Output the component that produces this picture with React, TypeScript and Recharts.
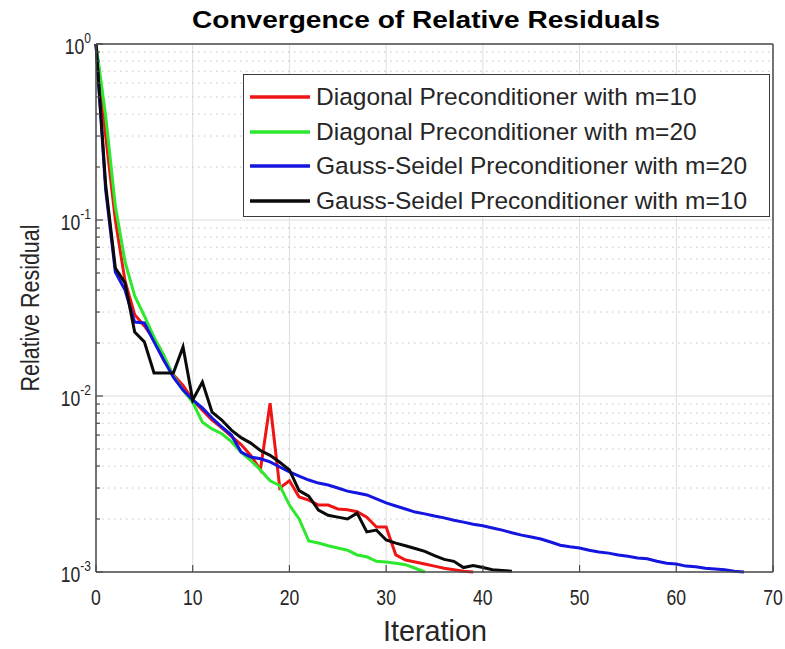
import { LineChart, Line, XAxis, YAxis, CartesianGrid, Legend, ReferenceLine } from 'recharts';

document.body.style.margin = '0';

const fontFamily = '"Liberation Sans", Arial, Helvetica, sans-serif';

// iterations on x, relative residual (log) on y
const iterTicks = [0, 10, 20, 30, 40, 50, 60, 70];
const decadeTicks = [0.001, 0.01, 0.1, 1];
const minorTicks = [
  0.002, 0.003, 0.004, 0.005, 0.006, 0.007, 0.008, 0.009,
  0.02, 0.03, 0.04, 0.05, 0.06, 0.07, 0.08, 0.09,
  0.2, 0.3, 0.4, 0.5, 0.6, 0.7, 0.8, 0.9,
];
const allYTicks = [...decadeTicks, ...minorTicks].sort((a, b) => a - b);

const diagM10 = [
  1, 0.3, 0.1, 0.045, 0.029, 0.025, 0.021, 0.016, 0.0132, 0.0115,
  0.0095, 0.0083, 0.0073, 0.0066, 0.0059, 0.0053, 0.0046, 0.0038, 0.0091, 0.003,
  0.0033, 0.00267, 0.00256, 0.0024, 0.0024, 0.00228, 0.00226, 0.0022, 0.00205, 0.0018,
  0.0018, 0.00125, 0.00117, 0.00114, 0.00111, 0.00108, 0.00105, 0.00103, 0.00101, 0.001,
];

const diagM20 = [
  1, 0.39, 0.12, 0.058, 0.037, 0.0285, 0.0216, 0.0171, 0.013, 0.0108,
  0.0092, 0.0071, 0.0065, 0.0061, 0.0055, 0.0048, 0.0043, 0.0038, 0.0033, 0.0031,
  0.0024, 0.002, 0.0015, 0.00146, 0.00141, 0.00137, 0.00133, 0.00125, 0.00122, 0.00115,
  0.00114, 0.00112, 0.0011, 0.00105, 0.001,
];

const gsM20 = [
  1, 0.148, 0.0507, 0.04, 0.0263, 0.026, 0.0203, 0.016, 0.0128, 0.0108,
  0.0095, 0.00855, 0.0075, 0.00667, 0.006, 0.0048, 0.0045, 0.0044, 0.00422, 0.00395,
  0.0037, 0.00351, 0.00333, 0.0032, 0.00312, 0.003, 0.00288, 0.00281, 0.00274, 0.0026,
  0.00247, 0.00237, 0.00228, 0.00219, 0.00214, 0.00208, 0.00203, 0.00197, 0.00192, 0.00187,
  0.00183, 0.00178, 0.00173, 0.00167, 0.00162, 0.00158, 0.00154, 0.00148, 0.00142, 0.00139,
  0.00137, 0.00133, 0.0013, 0.00128, 0.00125, 0.00123, 0.0012, 0.00119, 0.00115, 0.00112,
  0.00111, 0.00108, 0.00107, 0.00105, 0.00104, 0.00103, 0.00101, 0.001,
];

const gsM10 = [
  1, 0.158, 0.0534, 0.0439, 0.0231, 0.0203, 0.0135, 0.0135, 0.0135, 0.019,
  0.0095, 0.012, 0.0081, 0.0073, 0.0064, 0.0058, 0.0054, 0.0049, 0.0046, 0.0042,
  0.0038, 0.0029, 0.0027, 0.00225, 0.0021, 0.00205, 0.002, 0.00216, 0.00169, 0.00173,
  0.00152, 0.00146, 0.00141, 0.00136, 0.00131, 0.00124, 0.00118, 0.00115, 0.00106, 0.00109,
  0.00106, 0.00103, 0.00102, 0.00101,
];

const seriesNames = [
  'Diagonal Preconditioner with m=10',
  'Diagonal Preconditioner with m=20',
  'Gauss-Seidel Preconditioner with m=20',
  'Gauss-Seidel Preconditioner with m=10',
];
const seriesColors = ['#f01515', '#2ee82e', '#1515e0', '#0a0a0a'];
const seriesValues = [diagM10, diagM20, gsM20, gsM10];

const toPoints = (vals: number[]) => vals.map((v, i) => ({ iter: i, res: v }));

const axisColor = '#4a4a4a';
const textColor = '#262626';

const isDecade = (v: number) => {
  const e = Math.round(Math.log10(v));
  return Math.abs(v - Math.pow(10, e)) < 1e-9;
};

const BottomTick = (props: any) => {
  const { x, y, payload } = props;
  return (
    <g>
      <line x1={x} x2={x} y1={y} y2={y - 7} stroke={axisColor} strokeWidth={1.2} />
      <text
        transform={`translate(${x},${y + 33}) scale(0.8,1)`}
        textAnchor="middle"
        fontSize={22}
        fontFamily={fontFamily}
        fill={textColor}
      >
        {payload.value}
      </text>
    </g>
  );
};

const TopTick = (props: any) => {
  const { x, y } = props;
  return <line x1={x} x2={x} y1={y} y2={y + 7} stroke={axisColor} strokeWidth={1.2} />;
};

const LeftTick = (props: any) => {
  const { x, y, payload } = props;
  const v = payload.value;
  const major = isDecade(v);
  const e = Math.round(Math.log10(v));
  return (
    <g>
      <line x1={x} x2={x + (major ? 7 : 4)} y1={y} y2={y} stroke={axisColor} strokeWidth={1.2} />
      {major && (
        <text
          transform={`translate(${x - 5},${y + 10}) scale(0.8,1)`}
          textAnchor="end"
          fontSize={22}
          fontFamily={fontFamily}
          fill={textColor}
        >
          10
          <tspan dy={-11} fontSize={15}>
            {e}
          </tspan>
        </text>
      )}
    </g>
  );
};

const RightTick = (props: any) => {
  const { x, y, payload } = props;
  const major = isDecade(payload.value);
  return <line x1={x} x2={x - (major ? 7 : 4)} y1={y} y2={y} stroke={axisColor} strokeWidth={1.2} />;
};

const LegendBox = () => (
  <div
    style={{
      width: 527,
      height: 143,
      boxSizing: 'border-box',
      border: '1.5px solid #3a3a3a',
      background: '#fff',
      paddingTop: 5,
    }}
  >
    {seriesNames.map((n, i) => (
      <div key={n} style={{ height: 34.5, display: 'flex', alignItems: 'center' }}>
        <svg width={72} height={10} style={{ flex: 'none' }}>
          <line x1={6} x2={66} y1={5} y2={5} stroke={seriesColors[i]} strokeWidth={3.5} />
        </svg>
        <span style={{ fontSize: 24.5, fontFamily, color: textColor, whiteSpace: 'nowrap', lineHeight: '28px' }}>
          {n}
        </span>
      </div>
    ))}
  </div>
);

export default function App() {
  return (
    <div style={{ width: 785, height: 649, background: '#fff' }}>
      <LineChart width={785} height={649} margin={{ top: 43, right: 11, bottom: 47, left: 16 }}>
        <CartesianGrid horizontal={false} stroke="#dedede" strokeWidth={1} />
        {minorTicks.map((v) => (
          <ReferenceLine key={'m' + v} y={v} stroke="#c4c4c4" strokeDasharray="1.5 4.5" zIndex={-50} />
        ))}
        {decadeTicks.map((v) => (
          <ReferenceLine key={'d' + v} y={v} stroke="#dcdcdc" zIndex={-50} />
        ))}
        <XAxis
          dataKey="iter"
          type="number"
          domain={[0, 70]}
          ticks={iterTicks}
          interval={0}
          height={30}
          tickSize={0}
          tickMargin={0}
          tickLine={false}
          tick={<BottomTick />}
          axisLine={{ stroke: axisColor, strokeWidth: 1.5 }}
        />
        <XAxis
          xAxisId="top"
          orientation="top"
          dataKey="iter"
          type="number"
          domain={[0, 70]}
          ticks={iterTicks}
          interval={0}
          height={1}
          tickSize={0}
          tickMargin={0}
          tickLine={false}
          tick={<TopTick />}
          axisLine={{ stroke: axisColor, strokeWidth: 1.5 }}
        />
        <YAxis
          scale="log"
          domain={[0.001, 1]}
          ticks={allYTicks}
          interval={0}
          width={80}
          tickSize={0}
          tickMargin={0}
          tickLine={false}
          tick={<LeftTick />}
          axisLine={{ stroke: axisColor, strokeWidth: 1.5 }}
        />
        <YAxis
          yAxisId="right"
          orientation="right"
          scale="log"
          domain={[0.001, 1]}
          ticks={allYTicks}
          interval={0}
          width={1}
          tickSize={0}
          tickMargin={0}
          tickLine={false}
          tick={<RightTick />}
          axisLine={{ stroke: axisColor, strokeWidth: 1.5 }}
        />
        {seriesValues.map((vals, i) => (
          <Line
            key={seriesNames[i]}
            data={toPoints(vals)}
            dataKey="res"
            name={seriesNames[i]}
            type="linear"
            stroke={seriesColors[i]}
            strokeWidth={3}
            dot={false}
            activeDot={false}
            isAnimationActive={false}
          />
        ))}
        <Legend
          layout="vertical"
          align="center"
          verticalAlign="middle"
          content={<LegendBox />}
          wrapperStyle={{ left: 243, top: 74, width: 527, height: 143 }}
        />
        <text
          x={426}
          y={28}
          textAnchor="middle"
          fontSize={24}
          fontWeight="bold"
          fontFamily={fontFamily}
          fill="#000"
          textLength={468}
          lengthAdjust="spacingAndGlyphs"
        >
          Convergence of Relative Residuals
        </text>
        <text
          x={435}
          y={641}
          textAnchor="middle"
          fontSize={30}
          fontFamily={fontFamily}
          fill={textColor}
          textLength={104}
          lengthAdjust="spacingAndGlyphs"
        >
          Iteration
        </text>
        <text
          transform="translate(39,308) rotate(-90)"
          textAnchor="middle"
          fontSize={26}
          fontFamily={fontFamily}
          fill={textColor}
          textLength={167}
          lengthAdjust="spacingAndGlyphs"
        >
          Relative Residual
        </text>
      </LineChart>
    </div>
  );
}
